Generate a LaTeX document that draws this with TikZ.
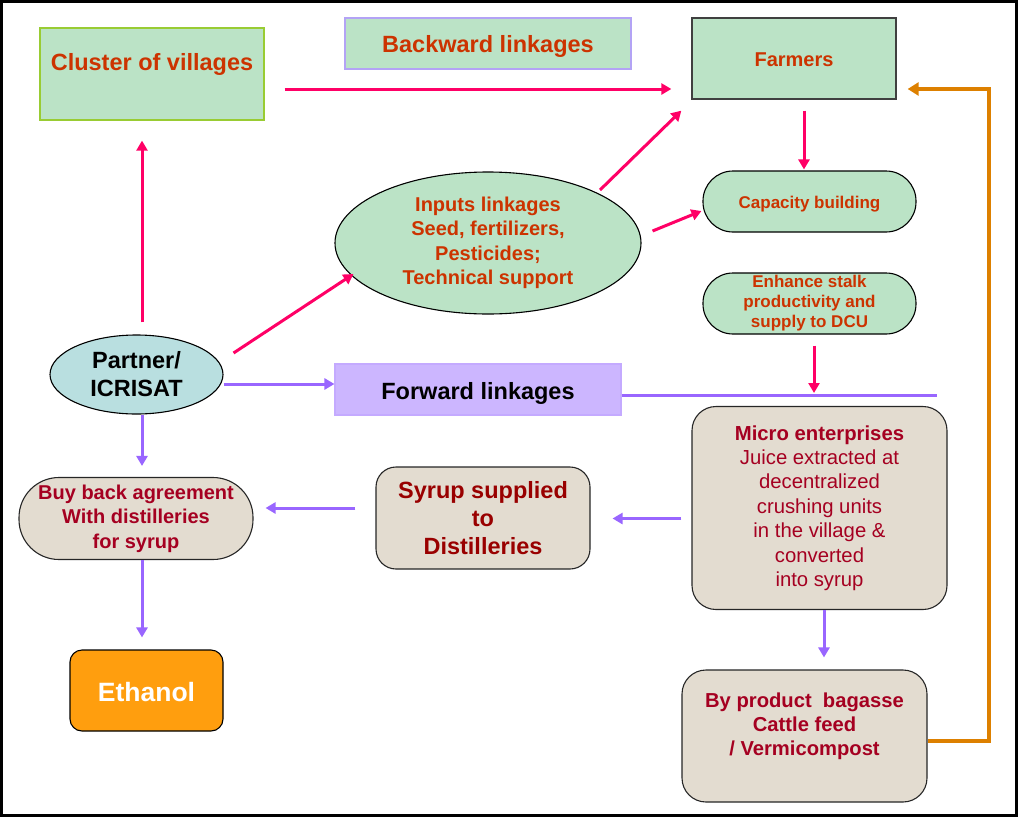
\documentclass[tikz,border=0pt]{standalone}
\usepackage{fontspec}
\setmainfont{Liberation Sans}
\usetikzlibrary{shapes.geometric,arrows.meta}
\definecolor{leafgreen}{HTML}{BBE3C6}
\definecolor{limeline}{HTML}{99CC33}
\definecolor{lavline}{HTML}{B3A3F5}
\definecolor{lavfill}{HTML}{CCB6FF}
\definecolor{skyfill}{HTML}{B9DFE0}
\definecolor{sandfill}{HTML}{E3DCD0}
\definecolor{ethfill}{HTML}{FF9E0E}
\definecolor{rustred}{HTML}{CC3300}
\definecolor{winered}{HTML}{A50021}
\definecolor{syrupred}{HTML}{990000}
\definecolor{hotpink}{HTML}{FF0066}
\definecolor{violet}{HTML}{9966FF}
\definecolor{amber}{HTML}{DD8000}
\begin{document}
\begin{tikzpicture}[x=1pt,y=-1pt,
    box/.style={rectangle,inner sep=0pt,align=center,font=\bfseries},
    oval/.style={box,ellipse},
    greenbox/.style={box,fill=leafgreen},
    pill/.style={box,fill=leafgreen,draw=black,line width=1.1pt,text=rustred},
    sandbox/.style={box,fill=sandfill,draw=black!85,line width=1.1pt,rounded corners=24pt},
    pinkarrow/.style={draw=hotpink,line width=3pt,-{Triangle[length=10pt,width=11pt]}},
    purplearrow/.style={draw=violet,line width=3pt,-{Triangle[length=10pt,width=11pt]}}]
  \useasboundingbox (0,0) rectangle (1018,817);
  \draw[line width=2.5pt] (1.5,1.5) rectangle (1016.5,815.5);
  % backward side
  \node[greenbox,draw=limeline,line width=1.3pt,minimum width=224,minimum height=92,
        label={[text=rustred,font=\bfseries\fontsize{23.5}{28}\selectfont,yshift=10pt]center:Cluster of villages}]
        (cluster) at (152,74) {};
  \node[greenbox,draw=lavline,line width=1.3pt,minimum width=286,minimum height=51,text height=22pt,text depth=5pt,
        text=rustred,font=\bfseries\fontsize{23.5}{28}\selectfont] (backward) at (488,43.5) {Backward linkages};
  \node[greenbox,draw=black!75,line width=1.3pt,minimum width=204,minimum height=81,text height=21.4pt,text depth=5pt,
        text=rustred,font=\bfseries\fontsize{20}{24}\selectfont] (farmers) at (794,58.5) {Farmers};
  \node[oval,fill=leafgreen,draw=black,line width=1.1pt,minimum width=306,minimum height=142,
        text=rustred,font=\bfseries\fontsize{20}{24.5}\selectfont] (inputs) at (488,243)
        {Inputs linkages\\Seed, fertilizers,\\Pesticides;\\Technical support};
  \node[pill,rounded corners=30pt,minimum width=213,minimum height=61,text height=18.6pt,text depth=5pt,
        font=\bfseries\fontsize{17}{20}\selectfont] (capacity) at (809.5,201.5) {Capacity building};
  \node[pill,rounded corners=30pt,minimum width=213,minimum height=61,
        font=\bfseries\fontsize{17}{20}\selectfont] (enhance) at (809.5,303.5)
        {Enhance stalk\\productivity and\\supply to DCU};
  % partner and forward side
  \node[oval,fill=skyfill,draw=black,line width=1.1pt,minimum width=173,minimum height=79,
        font=\bfseries\fontsize{23.5}{28}\selectfont] (partner) at (136.5,374.5) {Partner/\\ICRISAT};
  \node[box,fill=lavfill,draw=lavfill!85!violet,line width=1.1pt,minimum width=286,minimum height=51,
        text height=24pt,text depth=5pt,
        font=\bfseries\fontsize{23.5}{28}\selectfont] (forward) at (478,389.5) {Forward linkages};
  \coordinate (fwdend) at (937,395);
  \coordinate (fwdjoin) at (814,393);
  \node[sandbox,minimum width=255,minimum height=203,text=winered,
        font=\fontsize{20.3}{24.4}\selectfont] (micro) at (819.5,508)
        {{\bfseries Micro enterprises}\\Juice extracted at\\decentralized\\crushing units\\in the village \&\\converted\\into syrup};
  \node[sandbox,rounded corners=20pt,minimum width=214,minimum height=102,text=syrupred,
        font=\bfseries\fontsize{23.5}{28}\selectfont] (syrup) at (483,518) {Syrup supplied\\to\\Distilleries};
  \node[sandbox,rounded corners=40pt,minimum width=234,minimum height=82,text=winered,
        font=\bfseries\fontsize{20}{24.5}\selectfont] (buyback) at (136,518.5)
        {Buy back agreement\\With distilleries\\for syrup};
  \node[box,fill=ethfill,draw=black,line width=1.1pt,rounded corners=12pt,minimum width=153,minimum height=81,
        text height=26pt,text depth=5pt,
        text=white,font=\bfseries\fontsize{26.5}{30}\selectfont] (ethanol) at (146.5,690.5) {Ethanol};
  \node[sandbox,minimum width=245,minimum height=132,text=winered,
        label={[text=winered,align=center,font=\bfseries\fontsize{20.2}{24}\selectfont,yshift=10pt]center:By product~ bagasse\\Cattle feed\\/ Vermicompost}]
        (byprod) at (804.5,736) {};
  % backward linkages arrows
  \draw[pinkarrow] ([yshift=-15pt]cluster.east) ++(20,0) -- ([yshift=-15pt,xshift=-20pt]cluster.east -| farmers.west);
  \draw[pinkarrow] ([xshift=5.5pt,yshift=12pt]partner.north) -- ([xshift=5.5pt,yshift=-20pt]partner.north |- cluster.south);
  \draw[pinkarrow] ([xshift=10pt,yshift=21.5pt]partner.east) -- ([xshift=19pt,yshift=-31pt]inputs.west);
  \draw[pinkarrow] ([xshift=112pt,yshift=53pt]inputs.center) -- ([xshift=-10pt,yshift=-11pt]farmers.south west);
  \draw[pinkarrow] ([xshift=11pt,yshift=12pt]inputs.east) -- ([xshift=-1pt,yshift=-9.5pt]capacity.west);
  \draw[pinkarrow] ([xshift=10pt,yshift=-11pt]farmers.south) -- ([xshift=10pt,yshift=1pt]farmers.south |- capacity.north);
  \draw[pinkarrow] ([xshift=4.5pt,yshift=-11pt]enhance.south) -- (fwdjoin);
  % forward linkages arrows
  \draw[violet,line width=3pt] ([yshift=-5.5pt]forward.east) -- (fwdend);
  \draw[purplearrow] ([yshift=-9.5pt]partner.east) -- ([yshift=-9.5pt]partner.east -| forward.west);
  \draw[purplearrow] ([xshift=5.5pt]partner.south) -- ([xshift=5.5pt,yshift=11pt]partner.south |- buyback.north);
  \draw[purplearrow] ([xshift=6pt]buyback.south) -- ([xshift=6pt,yshift=12pt]buyback.south |- ethanol.north);
  \draw[purplearrow] ([xshift=-10pt,yshift=-10.5pt]micro.west) -- ([xshift=22pt,yshift=-10.5pt]micro.west -| syrup.east);
  \draw[purplearrow] ([xshift=-20pt,yshift=10pt]syrup.west) -- ([xshift=12pt,yshift=10pt]syrup.west -| buyback.east);
  \draw[purplearrow] ([xshift=4.5pt]micro.south) -- ([xshift=4.5pt,yshift=12pt]micro.south |- byprod.north);
  % by product back to farmers
  \draw[amber,line width=4pt,-{Triangle[length=11pt,width=13pt]}] ([yshift=-5pt]byprod.east) -- ++(61,0)
      |- ([xshift=11pt,yshift=-30.5pt]farmers.east);
\end{tikzpicture}
\end{document}
